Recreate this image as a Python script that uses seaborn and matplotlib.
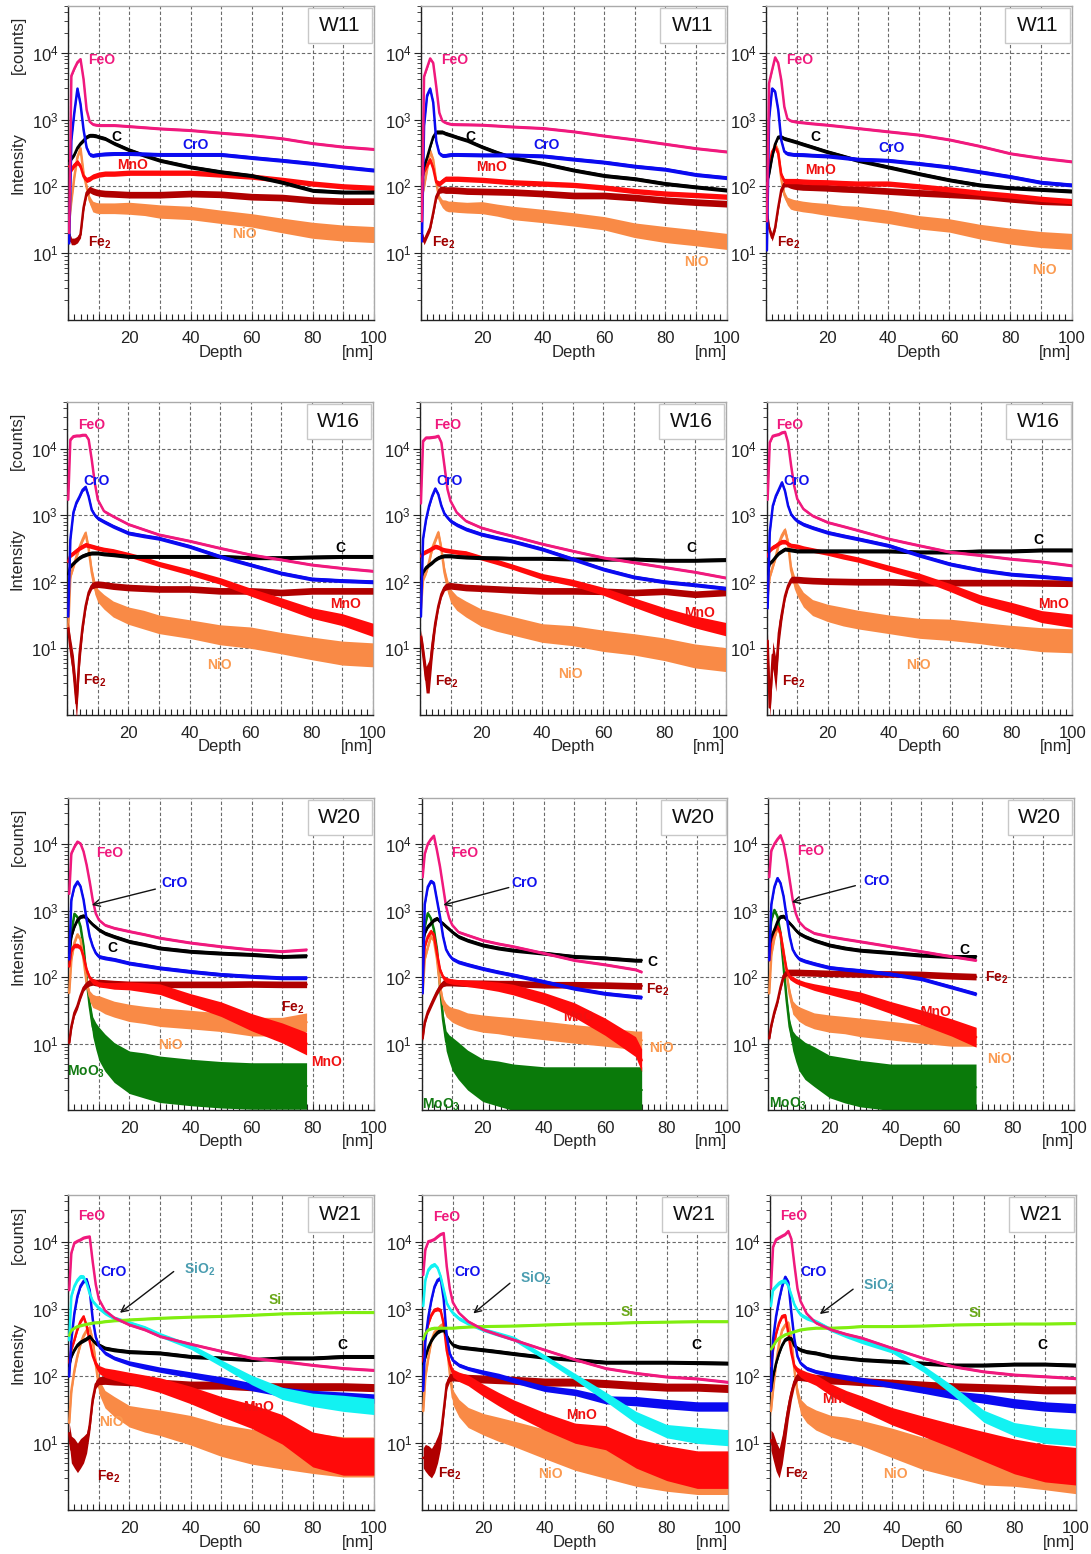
import numpy as np
import matplotlib
matplotlib.use("Agg")
import matplotlib.pyplot as plt
from matplotlib.patches import Rectangle
from matplotlib.ticker import (FixedLocator, MultipleLocator, LogLocator, NullFormatter,
                               FuncFormatter, LogFormatterSciNotation)
import seaborn as sns

sns.set_style("white")
plt.rcParams["font.family"] = ["Liberation Sans", "DejaVu Sans"]
plt.rcParams["mathtext.fontset"] = "custom"
plt.rcParams["mathtext.rm"] = "Liberation Sans"
plt.rcParams["mathtext.it"] = "Liberation Sans:italic"
plt.rcParams["mathtext.bf"] = "Liberation Sans:bold"

# ---------------------------------------------------------------- depth grids [nm]
DEPTH = [0.3, 1, 2, 3, 4, 5, 6, 7, 8, 9, 10, 12, 15, 20, 25, 30, 40, 50, 60, 70, 80, 90, 100]
DEPTH_W20A = [0.3, 1, 2, 3, 4, 5, 6, 7, 8, 9, 10, 12, 15, 20, 25, 30, 40, 50, 60, 70, 78]
DEPTH_W20B = [0.3, 1, 2, 3, 4, 5, 6, 7, 8, 9, 10, 12, 15, 20, 25, 30, 40, 50, 60, 70, 72]
DEPTH_W20C = [0.3, 1, 2, 3, 4, 5, 6, 7, 8, 9, 10, 12, 15, 20, 25, 30, 40, 50, 60, 68]

# ---------------------------------------------------------------- W11 profiles [counts]
W11A_FeO = [20, 4500, 5800, 7200, 8000, 4000, 1400, 930, 850, 830, 820, 820, 820, 790, 760, 730, 690, 630, 580, 520, 440, 390, 360]
W11A_CrO = [14, 490, 1300, 2900, 1700, 700, 380, 300, 290, 295, 300, 305, 310, 310, 305, 300, 300, 300, 270, 245, 220, 195, 175]
W11A_C = [240, 260, 300, 380, 440, 490, 550, 580, 580, 570, 550, 520, 440, 350, 290, 245, 195, 165, 145, 115, 87, 82, 82]
W11A_MnO = [200, 180, 210, 230, 200, 140, 125, 130, 140, 145, 150, 155, 155, 160, 160, 160, 160, 150, 140, 125, 110, 100, 95]
W11A_Fe2 = [19, 15, 15, 16, 19, 48, 80, 90, 85, 82, 80, 78, 77, 75, 75, 75, 78, 76, 70, 68, 62, 60, 60]
W11A_NiO = [30, 60, 140, 275, 370, 155, 98, 62, 50, 48, 47, 47, 47, 47, 45, 42, 40, 35, 31, 26, 22, 20, 19]

W11B_FeO = [30, 4400, 6000, 8200, 7000, 3100, 1260, 950, 900, 870, 850, 845, 840, 830, 805, 780, 740, 660, 570, 500, 430, 370, 330]
W11B_CrO = [15, 800, 2300, 2900, 1800, 470, 310, 290, 290, 295, 300, 300, 298, 295, 295, 295, 285, 255, 230, 200, 180, 150, 135]
W11B_C = [150, 200, 270, 390, 550, 650, 650, 650, 620, 600, 580, 540, 490, 390, 320, 270, 220, 175, 145, 130, 110, 98, 88]
W11B_MnO = [120, 170, 210, 250, 185, 115, 110, 120, 130, 130, 130, 130, 128, 125, 120, 115, 110, 105, 96, 85, 78, 74, 70]
W11B_Fe2 = [19, 15, 19, 24, 40, 70, 88, 90, 88, 88, 88, 87, 85, 84, 83, 82, 78, 73, 73, 68, 62, 58, 55]
W11B_NiO = [70, 100, 180, 340, 250, 115, 65, 55, 52, 50, 50, 49, 48, 48, 44, 40, 36, 32, 28, 22, 19, 17, 15]

W11C_FeO = [30, 3500, 5500, 8500, 7000, 3900, 1550, 1030, 960, 940, 920, 900, 870, 830, 785, 740, 660, 590, 500, 400, 310, 265, 235]
W11C_CrO = [11, 1000, 2900, 2600, 1400, 490, 330, 310, 305, 300, 300, 298, 292, 285, 270, 255, 245, 220, 195, 165, 140, 115, 105]
W11C_C = [120, 150, 270, 430, 550, 550, 520, 505, 490, 475, 460, 430, 390, 330, 285, 245, 195, 155, 125, 105, 95, 90, 85]
W11C_MnO = [95, 200, 330, 390, 310, 150, 120, 120, 120, 120, 120, 118, 116, 115, 112, 110, 110, 100, 90, 80, 73, 65, 60]
W11C_Fe2 = [40, 24, 17, 24, 48, 88, 110, 110, 105, 102, 100, 98, 97, 95, 92, 90, 85, 80, 76, 72, 65, 60, 58]
W11C_NiO = [95, 180, 300, 430, 340, 130, 75, 60, 55, 53, 52, 50, 48, 45, 42, 40, 35, 29, 26, 21, 18, 16, 15]

# ---------------------------------------------------------------- W16 profiles
W16A_FeO = [1700, 13600, 15300, 15600, 15600, 16000, 16000, 13600, 6800, 3050, 1700, 1150, 960, 730, 610, 510, 410, 320, 255, 215, 180, 160, 145]
W16A_CrO = [30, 430, 1100, 1550, 1900, 2400, 2650, 1900, 1200, 1000, 900, 800, 680, 540, 490, 450, 340, 240, 180, 135, 110, 104, 100]
W16A_C = [130, 170, 190, 210, 230, 245, 255, 265, 270, 270, 270, 262, 255, 240, 240, 240, 240, 240, 230, 230, 235, 240, 240]
W16A_MnO = [200, 250, 270, 295, 320, 340, 360, 350, 340, 330, 320, 305, 290, 255, 220, 185, 140, 103, 70, 49, 34, 27, 19]
W16A_Fe2 = [20, 10.5, 5, 1.5, 8, 21, 43, 69, 87, 91, 92, 90, 86, 82, 80, 78, 78, 73, 73, 69, 73, 73, 73]
W16A_NiO = [20, 120, 170, 240, 330, 430, 540, 310, 140, 82, 62, 50, 39, 31, 27, 23, 19.5, 16, 14.5, 12, 10, 8.5, 8]

W16B_FeO = [1500, 13000, 14600, 14600, 14800, 15000, 15500, 12300, 5500, 2450, 1630, 1100, 820, 650, 560, 490, 370, 290, 230, 195, 165, 140, 115]
W16B_CrO = [30, 440, 870, 1380, 1950, 2500, 2050, 1380, 1050, 920, 820, 720, 620, 520, 460, 410, 310, 220, 155, 118, 100, 90, 80]
W16B_C = [110, 140, 165, 180, 195, 215, 230, 240, 245, 245, 245, 240, 235, 230, 228, 225, 225, 220, 218, 220, 210, 210, 215]
W16B_MnO = [240, 270, 285, 300, 320, 340, 330, 310, 300, 295, 290, 280, 270, 230, 200, 170, 120, 97, 72, 49, 34, 25, 19.5]
W16B_Fe2 = [15, 8.5, 3.4, 3.8, 10.7, 24, 43, 65, 82, 86, 87, 85, 82, 80, 78, 76, 73, 73, 72, 69, 72, 65, 69]
W16B_NiO = [40, 110, 140, 200, 320, 420, 550, 310, 140, 87, 62, 48, 39, 29, 25, 22, 17, 15.5, 13, 11.5, 9.7, 7.7, 6.8]

W16C_FeO = [1700, 12300, 15500, 16000, 16400, 17400, 17800, 12300, 5500, 2750, 1750, 1240, 980, 780, 680, 590, 440, 350, 280, 250, 220, 200, 175]
W16C_CrO = [40, 550, 1380, 1950, 2450, 3100, 2300, 1380, 1030, 900, 820, 730, 650, 550, 490, 440, 350, 250, 185, 150, 130, 120, 110]
W16C_C = [130, 190, 210, 240, 270, 290, 310, 305, 300, 295, 290, 290, 290, 290, 290, 290, 290, 280, 280, 290, 290, 300, 300]
W16C_MnO = [240, 300, 330, 350, 380, 400, 400, 370, 350, 345, 340, 320, 300, 270, 240, 215, 160, 120, 82, 54, 41, 30, 26]
W16C_Fe2 = [13, 1.3, 8, 4, 17, 34, 61, 87, 108, 108, 108, 106, 104, 102, 101, 100, 100, 97, 97, 97, 97, 96, 95]
W16C_NiO = [60, 120, 170, 240, 380, 500, 600, 380, 150, 100, 77, 54, 41, 34, 30, 27, 23, 20, 19, 17, 15, 13.5, 13]

# ---------------------------------------------------------------- W20 profiles
W20A_FeO = [1800, 7300, 9200, 11000, 10300, 7800, 4900, 2750, 1450, 910, 730, 610, 550, 490, 440, 390, 330, 290, 260, 245, 260]
W20A_CrO = [185, 1460, 2320, 2750, 2320, 1460, 730, 410, 290, 230, 205, 195, 185, 163, 150, 138, 122, 110, 103, 98, 98]
W20A_C = [230, 410, 580, 730, 820, 840, 780, 690, 620, 570, 520, 460, 410, 345, 310, 275, 245, 230, 220, 205, 210]
W20A_MoO3 = [185, 460, 900, 800, 580, 290, 92, 37, 18, 13, 10, 7.3, 5.2, 3.7, 3.3, 2.9, 2.6, 2.4, 2.3, 2.3, 2.3]
W20A_MnO = [145, 260, 300, 300, 280, 205, 130, 98, 87, 83, 78, 76, 74, 74, 70, 66, 46, 33, 21, 14.5, 10]
W20A_Fe2 = [10.3, 18, 29, 37, 52, 69, 78, 83, 85, 83, 83, 82, 80, 78, 78, 78, 78, 78, 79, 78, 78]
W20A_NiO = [58, 185, 330, 440, 370, 185, 83, 52, 44, 42, 41, 37, 33, 29, 27, 25, 23, 21, 18, 18, 21]

W20B_FeO = [3200, 7200, 10200, 12000, 13500, 8100, 4600, 2300, 1150, 770, 610, 480, 430, 360, 320, 290, 230, 180, 155, 130, 120]
W20B_CrO = [57, 1250, 2300, 2800, 2600, 1450, 810, 410, 260, 215, 190, 170, 155, 135, 120, 108, 86, 68, 57, 51, 50]
W20B_C = [330, 460, 580, 650, 730, 770, 690, 640, 580, 530, 480, 410, 360, 305, 275, 255, 230, 205, 195, 180, 180]
W20B_MoO3 = [180, 580, 920, 770, 520, 260, 73, 23, 11, 8.5, 7, 5.5, 4, 2.8, 2.5, 2.2, 2, 2, 2, 2, 2]
W20B_MnO = [105, 290, 410, 490, 430, 230, 130, 100, 91, 88, 86, 84, 81, 77, 72, 65, 48, 32, 18, 9, 5.6]
W20B_Fe2 = [12, 21, 30, 38, 48, 60, 72, 81, 83, 83, 83, 82, 81, 81, 80, 80, 77, 77, 76, 74, 74]
W20B_NiO = [57, 190, 280, 410, 360, 190, 73, 40, 32, 29, 27, 25, 22, 20, 19, 17.8, 15.8, 14, 12.6, 11.2, 11.2]

W20C_FeO = [3200, 8100, 10200, 12000, 13700, 10200, 5800, 2900, 1450, 910, 690, 550, 460, 410, 375, 345, 290, 245, 205, 180]
W20C_CrO = [180, 1250, 2300, 3100, 2600, 1650, 810, 410, 260, 215, 190, 175, 160, 140, 132, 126, 112, 95, 71, 56]
W20C_C = [290, 410, 520, 690, 820, 830, 730, 650, 580, 510, 460, 410, 360, 305, 275, 255, 235, 215, 205, 205]
W20C_MoO3 = [330, 730, 1030, 820, 460, 145, 46, 18, 11, 8.5, 7, 5.5, 4.5, 3.2, 2.8, 2.5, 2.2, 2.2, 2.2, 2.2]
W20C_MnO = [180, 370, 520, 580, 460, 230, 130, 100, 94, 88, 84, 78, 71, 63, 56, 50, 35, 25, 17.5, 12.5]
W20C_Fe2 = [12, 19, 30, 43, 70, 105, 118, 118, 118, 118, 118, 117, 116, 114, 113, 112, 112, 110, 105, 102]
W20C_NiO = [57, 220, 390, 550, 440, 250, 110, 56, 35, 31, 28, 25, 22, 20, 19, 17.6, 15.7, 14, 12.6, 12.6]

# ---------------------------------------------------------------- W21 profiles
W21A_FeO = [1900, 6800, 9700, 10300, 10800, 11500, 11800, 12000, 5000, 2300, 1400, 950, 740, 580, 490, 390, 300, 235, 185, 165, 145, 130, 122]
W21A_SiO2 = [340, 1550, 2200, 2700, 3050, 3000, 2400, 1700, 1300, 1150, 1030, 870, 730, 620, 520, 410, 275, 155, 87, 55, 44, 39, 35]
W21A_CrO = [98, 345, 870, 1550, 2200, 2600, 2750, 1900, 700, 380, 280, 220, 185, 155, 138, 124, 104, 87, 69, 58, 52, 49, 46]
W21A_Si = [400, 480, 520, 550, 565, 580, 595, 605, 620, 625, 630, 650, 670, 690, 710, 730, 760, 780, 810, 850, 870, 890, 890]
W21A_C = [140, 195, 245, 290, 320, 340, 360, 390, 340, 305, 290, 260, 245, 230, 225, 220, 195, 185, 175, 185, 185, 195, 195]
W21A_MnO = [155, 250, 345, 500, 650, 770, 560, 330, 200, 150, 125, 112, 104, 92, 82, 73, 52, 35, 25, 16, 8, 6.3, 6.3]
W21A_Fe2 = [14, 8, 7, 6, 7, 8, 10, 18, 45, 75, 85, 86, 84, 82, 80, 78, 73, 73, 69, 69, 69, 69, 67]
W21A_NiO = [20, 60, 120, 200, 300, 400, 480, 520, 330, 150, 70, 45, 35, 25, 22, 20, 15.5, 11, 8.8, 7.8, 7, 6.2, 6.2]

W21B_FeO = [3200, 7700, 10200, 10500, 11000, 12000, 13000, 13500, 4300, 2000, 1250, 870, 650, 490, 410, 345, 245, 175, 130, 110, 97, 91, 81]
W21B_SiO2 = [1100, 2700, 3850, 4400, 4600, 4100, 3050, 1950, 1220, 1000, 870, 720, 610, 490, 420, 360, 190, 97, 49, 24, 15, 13, 12]
W21B_CrO = [60, 340, 770, 1370, 2150, 2700, 2900, 1400, 390, 215, 170, 145, 129, 113, 100, 86, 65, 57, 44, 42, 38, 35, 35]
W21B_Si = [350, 430, 490, 510, 520, 520, 520, 520, 520, 520, 520, 530, 540, 550, 555, 560, 580, 600, 610, 630, 640, 650, 650]
W21B_C = [150, 190, 270, 340, 400, 450, 480, 490, 400, 330, 290, 270, 260, 245, 230, 215, 190, 175, 160, 160, 160, 158, 155]
W21B_MnO = [160, 390, 610, 820, 970, 1000, 950, 600, 240, 150, 110, 97, 86, 61, 45, 34, 21, 14, 12, 7, 5, 4, 4]
W21B_Fe2 = [6, 6, 5.5, 5, 6, 8, 12, 30, 75, 95, 97, 95, 92, 90, 88, 86, 81, 81, 77, 72, 68, 68, 65]
W21B_NiO = [30, 97, 190, 340, 450, 500, 560, 600, 300, 110, 48, 33, 24, 19, 16, 13.7, 9.7, 6.8, 5.4, 4.3, 3.8, 3.4, 3.4]

W21C_FeO = [2000, 8400, 10900, 11600, 12300, 13000, 14500, 11000, 4500, 2000, 1300, 850, 620, 490, 420, 370, 260, 185, 138, 116, 104, 98, 92]
W21C_SiO2 = [1100, 1950, 2200, 2450, 2600, 2600, 2200, 1600, 1150, 950, 820, 730, 650, 490, 400, 330, 240, 130, 60, 25, 16, 13, 12]
W21C_CrO = [60, 350, 780, 1380, 2200, 3000, 2500, 870, 350, 195, 155, 130, 116, 104, 95, 87, 73, 62, 52, 46, 39, 35, 33]
W21C_Si = [250, 280, 330, 370, 390, 415, 430, 445, 460, 475, 490, 505, 520, 520, 530, 550, 550, 560, 580, 590, 600, 600, 610]
W21C_C = [60, 98, 155, 220, 290, 350, 370, 360, 280, 260, 245, 230, 220, 195, 185, 175, 165, 155, 145, 145, 150, 150, 145]
W21C_MnO = [140, 245, 430, 620, 780, 800, 430, 220, 138, 120, 110, 98, 87, 62, 48, 39, 25, 17.8, 12.6, 8.9, 6.3, 5, 4.5]
W21C_Fe2 = [11, 9, 6.3, 5, 8, 16, 32, 55, 82, 98, 98, 95, 92, 87, 85, 82, 78, 73, 69, 67, 65, 62, 62]
W21C_NiO = [30, 62, 155, 310, 490, 580, 620, 350, 123, 55, 35, 27, 22, 17.8, 16, 14, 10, 7, 5.6, 4.5, 4.5, 4, 3.5]

# ---------------------------------------------------------------- scatter half-width [decades]
NOISE_BASE = {"FeO": 0.02, "CrO": 0.03, "C": 0.03, "Si": 0.02, "SiO2": 0.035,
              "MnO": 0.04, "Fe2": 0.05, "NiO": 0.1, "MoO3": 0.25}
NOISE_W11 = {
    "NiO": [0.04, 0.04, 0.03, 0.03, 0.03, 0.04, 0.05, 0.06, 0.08, 0.08, 0.08, 0.08, 0.08, 0.09, 0.09, 0.1, 0.1, 0.1, 0.1, 0.11, 0.12, 0.12, 0.12],
}
NOISE_W16 = {
    "Fe2": [0.1, 0.15, 0.2, 0.25, 0.18, 0.1, 0.06, 0.05, 0.05, 0.05, 0.05, 0.05, 0.05, 0.05, 0.05, 0.05, 0.05, 0.05, 0.05, 0.05, 0.05, 0.05, 0.05],
    "NiO": [0.04, 0.04, 0.04, 0.04, 0.04, 0.04, 0.04, 0.06, 0.08, 0.1, 0.1, 0.11, 0.12, 0.13, 0.14, 0.14, 0.14, 0.15, 0.16, 0.16, 0.17, 0.18, 0.18],
    "MnO": [0.035, 0.035, 0.035, 0.035, 0.035, 0.035, 0.035, 0.035, 0.035, 0.035, 0.035, 0.035, 0.035, 0.035, 0.04, 0.04, 0.045, 0.05, 0.06, 0.07, 0.08, 0.09, 0.1],
}
NOISE_W20 = {
    "MoO3": [0.04, 0.03, 0.02, 0.02, 0.02, 0.03, 0.05, 0.1, 0.15, 0.2, 0.25, 0.28, 0.3, 0.32, 0.34, 0.35, 0.35, 0.35, 0.35, 0.35, 0.35],
    "MnO": [0.035, 0.035, 0.035, 0.035, 0.035, 0.035, 0.035, 0.035, 0.04, 0.04, 0.04, 0.04, 0.05, 0.06, 0.07, 0.08, 0.09, 0.11, 0.13, 0.15, 0.17],
    "NiO": [0.04, 0.04, 0.03, 0.03, 0.03, 0.04, 0.05, 0.08, 0.1, 0.1, 0.11, 0.12, 0.12, 0.13, 0.13, 0.14, 0.14, 0.14, 0.14, 0.14, 0.14],
}
NOISE_W21 = {
    "NiO": [0.08, 0.05, 0.04, 0.03, 0.03, 0.03, 0.03, 0.04, 0.06, 0.09, 0.11, 0.13, 0.15, 0.16, 0.18, 0.19, 0.22, 0.24, 0.26, 0.28, 0.3, 0.3, 0.3],
    "MnO": [0.04, 0.03, 0.03, 0.03, 0.03, 0.03, 0.03, 0.03, 0.04, 0.05, 0.06, 0.07, 0.08, 0.09, 0.1, 0.11, 0.13, 0.15, 0.18, 0.22, 0.26, 0.28, 0.28],
    "Fe2": [0.15, 0.2, 0.22, 0.22, 0.22, 0.2, 0.15, 0.1, 0.07, 0.06, 0.06, 0.06, 0.06, 0.06, 0.06, 0.06, 0.06, 0.06, 0.06, 0.06, 0.06, 0.06, 0.06],
    "SiO2": [0.03, 0.03, 0.03, 0.03, 0.03, 0.03, 0.03, 0.03, 0.03, 0.03, 0.03, 0.03, 0.03, 0.03, 0.035, 0.035, 0.04, 0.05, 0.07, 0.09, 0.1, 0.12, 0.12],
    "CrO": [0.03, 0.03, 0.03, 0.03, 0.03, 0.03, 0.03, 0.03, 0.03, 0.03, 0.03, 0.03, 0.03, 0.035, 0.04, 0.04, 0.045, 0.05, 0.06, 0.07, 0.07, 0.07, 0.07],
}

# ---------------------------------------------------------------- styling
LINE_COLOR = {"FeO": "#F0197D", "CrO": "#0A0AF0", "C": "#000000", "MnO": "#FF0A0A",
              "Fe2": "#B00000", "NiO": "#F98A46", "MoO3": "#0A7A0A", "SiO2": "#12F2F2",
              "Si": "#80EE10"}
TEXT_COLOR = {"FeO": "#F0197D", "CrO": "#1010EE", "C": "#000000", "MnO": "#F01010",
              "Fe2": "#A00000", "NiO": "#FB9A50", "MoO3": "#137A13", "SiO2": "#4A9DB0",
              "Si": "#6AA818"}
TEXT = {"FeO": "FeO", "CrO": "CrO", "C": "C", "MnO": "MnO", "Fe2": r"Fe$_\mathbf{2}$",
        "NiO": "NiO", "MoO3": r"MoO$_\mathbf{3}$", "SiO2": r"SiO$_\mathbf{2}$", "Si": "Si"}
DRAW_ORDER = ["MoO3", "NiO", "Fe2", "MnO", "C", "CrO", "SiO2", "Si", "FeO"]

# panel grid: (sample, depth grid, curves, scatter, label positions, arrow)
PANELS = [
    [("W11", DEPTH, {"FeO": W11A_FeO, "CrO": W11A_CrO, "C": W11A_C, "MnO": W11A_MnO, "Fe2": W11A_Fe2, "NiO": W11A_NiO}, NOISE_W11,
      {"FeO": (0.110, 0.828), "C": (0.159, 0.583), "CrO": (0.415, 0.557), "MnO": (0.209, 0.494), "Fe2": (0.104, 0.245), "NiO": (0.578, 0.274)}, None),
     ("W11", DEPTH, {"FeO": W11B_FeO, "CrO": W11B_CrO, "C": W11B_C, "MnO": W11B_MnO, "Fe2": W11B_Fe2, "NiO": W11B_NiO}, NOISE_W11,
      {"FeO": (0.111, 0.828), "C": (0.160, 0.583), "CrO": (0.412, 0.557), "MnO": (0.232, 0.487), "Fe2": (0.075, 0.245), "NiO": (0.903, 0.185)}, None),
     ("W11", DEPTH, {"FeO": W11C_FeO, "CrO": W11C_CrO, "C": W11C_C, "MnO": W11C_MnO, "Fe2": W11C_Fe2, "NiO": W11C_NiO}, NOISE_W11,
      {"FeO": (0.111, 0.828), "C": (0.160, 0.583), "CrO": (0.412, 0.548), "MnO": (0.177, 0.478), "Fe2": (0.075, 0.245), "NiO": (0.910, 0.159)}, None)],
    [("W16", DEPTH, {"FeO": W16A_FeO, "CrO": W16A_CrO, "C": W16A_C, "MnO": W16A_MnO, "Fe2": W16A_Fe2, "NiO": W16A_NiO}, NOISE_W16,
      {"FeO": (0.080, 0.927), "CrO": (0.096, 0.748), "C": (0.895, 0.534), "MnO": (0.912, 0.355), "NiO": (0.498, 0.160), "Fe2": (0.091, 0.109)}, None),
     ("W16", DEPTH, {"FeO": W16B_FeO, "CrO": W16B_CrO, "C": W16B_C, "MnO": W16B_MnO, "Fe2": W16B_Fe2, "NiO": W16B_NiO}, NOISE_W16,
      {"FeO": (0.089, 0.927), "CrO": (0.096, 0.748), "C": (0.889, 0.534), "MnO": (0.914, 0.325), "NiO": (0.491, 0.131), "Fe2": (0.087, 0.107)}, None),
     ("W16", DEPTH, {"FeO": W16C_FeO, "CrO": W16C_CrO, "C": W16C_C, "MnO": W16C_MnO, "Fe2": W16C_Fe2, "NiO": W16C_NiO}, NOISE_W16,
      {"FeO": (0.076, 0.927), "CrO": (0.098, 0.748), "C": (0.889, 0.559), "MnO": (0.938, 0.355), "NiO": (0.496, 0.160), "Fe2": (0.089, 0.107)}, None)],
    [("W20", DEPTH_W20A, {"FeO": W20A_FeO, "CrO": W20A_CrO, "C": W20A_C, "MoO3": W20A_MoO3, "MnO": W20A_MnO, "Fe2": W20A_Fe2, "NiO": W20A_NiO}, NOISE_W20,
      {"FeO": (0.136, 0.823), "CrO": (0.349, 0.727), "C": (0.145, 0.518), "Fe2": (0.735, 0.327), "NiO": (0.333, 0.208), "MnO": (0.846, 0.155), "MoO3": (0.057, 0.123)},
      ((0.077, 0.657), (0.285, 0.708))),
     ("W20", DEPTH_W20B, {"FeO": W20B_FeO, "CrO": W20B_CrO, "C": W20B_C, "MoO3": W20B_MoO3, "MnO": W20B_MnO, "Fe2": W20B_Fe2, "NiO": W20B_NiO}, NOISE_W20,
      {"FeO": (0.142, 0.823), "CrO": (0.338, 0.727), "C": (0.756, 0.475), "Fe2": (0.774, 0.385), "MnO": (0.513, 0.299), "NiO": (0.785, 0.200), "MoO3": (0.065, 0.016)},
      ((0.071, 0.657), (0.285, 0.713))),
     ("W20", DEPTH_W20C, {"FeO": W20C_FeO, "CrO": W20C_CrO, "C": W20C_C, "MoO3": W20C_MoO3, "MnO": W20C_MnO, "Fe2": W20C_Fe2, "NiO": W20C_NiO}, NOISE_W20,
      {"FeO": (0.140, 0.830), "CrO": (0.355, 0.734), "C": (0.642, 0.513), "Fe2": (0.748, 0.424), "MnO": (0.546, 0.315), "NiO": (0.758, 0.163), "MoO3": (0.065, 0.021)},
      ((0.077, 0.666), (0.285, 0.719)))],
    [("W21", DEPTH, {"FeO": W21A_FeO, "SiO2": W21A_SiO2, "CrO": W21A_CrO, "Si": W21A_Si, "C": W21A_C, "MnO": W21A_MnO, "Fe2": W21A_Fe2, "NiO": W21A_NiO}, NOISE_W21,
      {"FeO": (0.076, 0.933), "CrO": (0.147, 0.757), "SiO2": (0.431, 0.764), "Si": (0.676, 0.667), "C": (0.898, 0.524), "MnO": (0.622, 0.326), "NiO": (0.142, 0.278), "Fe2": (0.131, 0.106)},
      ((0.169, 0.626), (0.345, 0.757))),
     ("W21", DEPTH, {"FeO": W21B_FeO, "SiO2": W21B_SiO2, "CrO": W21B_CrO, "Si": W21B_Si, "C": W21B_C, "MnO": W21B_MnO, "Fe2": W21B_Fe2, "NiO": W21B_NiO}, NOISE_W21,
      {"FeO": (0.080, 0.930), "CrO": (0.147, 0.757), "SiO2": (0.372, 0.736), "Si": (0.669, 0.630), "C": (0.896, 0.524), "MnO": (0.522, 0.302), "NiO": (0.418, 0.114), "Fe2": (0.091, 0.114)},
      ((0.167, 0.624), (0.287, 0.720))),
     ("W21", DEPTH, {"FeO": W21C_FeO, "SiO2": W21C_SiO2, "CrO": W21C_CrO, "Si": W21C_Si, "C": W21C_C, "MnO": W21C_MnO, "Fe2": W21C_Fe2, "NiO": W21C_NiO}, NOISE_W21,
      {"FeO": (0.076, 0.933), "CrO": (0.142, 0.757), "SiO2": (0.357, 0.714), "Si": (0.670, 0.626), "C": (0.893, 0.524), "MnO": (0.221, 0.351), "NiO": (0.409, 0.114), "Fe2": (0.087, 0.114)},
      ((0.163, 0.622), (0.272, 0.701)))],
]

# axes placement in pixels of a 1091 x 1554 canvas
FIG_W, FIG_H = 1091, 1554
ROW_TOP = [6, 402, 798, 1195]
ROW_BOTTOM = [320, 715, 1110, 1510]
COL_LEFT = [[68.3, 421.0, 766.0], [67.3, 420.0, 766.7], [68.3, 421.7, 768.3], [68.3, 422.3, 770.0]]
AX_W = 305.5

fig = plt.figure(figsize=(FIG_W / 100, FIG_H / 100), dpi=100)


def x_label(x, pos):
    v = int(round(x))
    return str(v) if v > 0 and v % 20 == 0 else ""


for r, row in enumerate(PANELS):
    for c, (sample, depth, curves, noise, label_pos, arrow) in enumerate(row):
        left = COL_LEFT[r][c]
        ax = fig.add_axes([left / FIG_W, 1 - ROW_BOTTOM[r] / FIG_H,
                           AX_W / FIG_W, (ROW_BOTTOM[r] - ROW_TOP[r]) / FIG_H])
        ax.set_yscale("log")
        ax.set_xlim(0, 100)
        ax.set_ylim(1, 5e4)

        for z, sp in enumerate(DRAW_ORDER):
            if sp not in curves:
                continue
            v = np.asarray(curves[sp], dtype=float)
            d = np.asarray(depth[:len(v)], dtype=float)
            w = noise.get(sp, NOISE_BASE[sp])
            w = np.broadcast_to(np.asarray(w, dtype=float)[:len(v)] if np.ndim(w) else w, v.shape)
            lo = np.clip(v / 10 ** w, 0.85, None)
            hi = v * 10 ** w
            ax.fill_between(d, lo, hi, color=LINE_COLOR[sp], lw=0, zorder=2 + z)
            sns.lineplot(x=d, y=v, ax=ax, color=LINE_COLOR[sp], linewidth=1.8,
                         estimator=None, sort=False, legend=False, zorder=2.5 + z)

        # axes cosmetics
        ax.xaxis.set_major_locator(MultipleLocator(10))
        ax.xaxis.set_major_formatter(FuncFormatter(x_label))
        ax.xaxis.set_minor_locator(MultipleLocator(2))
        ax.yaxis.set_major_locator(FixedLocator([10, 100, 1000, 10000]))
        ax.yaxis.set_major_formatter(LogFormatterSciNotation())
        ax.yaxis.set_minor_locator(LogLocator(base=10, subs=np.arange(2, 10) * 1.0, numticks=20))
        ax.yaxis.set_minor_formatter(NullFormatter())
        ax.tick_params(axis="x", which="both", bottom=True, direction="in", length=4.5,
                       width=0.8, labelsize=12, pad=8, colors="#222222")
        ax.tick_params(axis="y", which="major", left=True, direction="out", length=5,
                       width=0.8, labelsize=12, pad=2, colors="#222222")
        ax.tick_params(axis="y", which="minor", left=True, direction="out", length=3,
                       width=0.7, colors="#444444")
        ax.grid(True, which="major", axis="both", color="#6a6a6a",
                linestyle=(0, (3, 2)), linewidth=0.8, zorder=1)
        ax.set_axisbelow(True)
        for side in ("left", "bottom"):
            ax.spines[side].set_color("#222222")
            ax.spines[side].set_linewidth(1.0)
        for side in ("top", "right"):
            ax.spines[side].set_color("#aaaaaa")
            ax.spines[side].set_linewidth(1.0)
        ax.set_xlabel("")
        ax.set_ylabel("")

        ax.text(0.5, -0.102, "Depth", transform=ax.transAxes, ha="center", va="center", fontsize=12)
        ax.text(1.0, -0.102, "[nm]", transform=ax.transAxes, ha="right", va="center", fontsize=12)
        if c == 0:
            ax.text(-0.165, 0.5, "Intensity", transform=ax.transAxes, rotation=90,
                    ha="center", va="center", fontsize=12)
            ax.text(-0.165, 0.875, "[counts]", transform=ax.transAxes, rotation=90,
                    ha="center", va="center", fontsize=12)

        # sample tag
        ax.add_patch(Rectangle((0.783, 0.882), 0.212, 0.112, transform=ax.transAxes,
                               facecolor="white", edgecolor="#c8c8c8", lw=1.0, zorder=20))
        ax.text(0.889, 0.938, sample, transform=ax.transAxes, ha="center", va="center",
                fontsize=15, color="#111111", zorder=21)

        # species labels
        for sp, (fx, fy) in label_pos.items():
            ax.text(fx, fy, TEXT[sp], transform=ax.transAxes, ha="center", va="center",
                    fontsize=10, fontweight="bold", color=TEXT_COLOR[sp], zorder=22)

        if arrow is not None:
            head, tail = arrow
            ax.annotate("", xy=head, xytext=tail, xycoords="axes fraction",
                        textcoords="axes fraction", zorder=23,
                        arrowprops=dict(arrowstyle="->", color="#111111", lw=1.0,
                                        shrinkA=0, shrinkB=0, mutation_scale=12))

fig.savefig("out.png", dpi=100)
